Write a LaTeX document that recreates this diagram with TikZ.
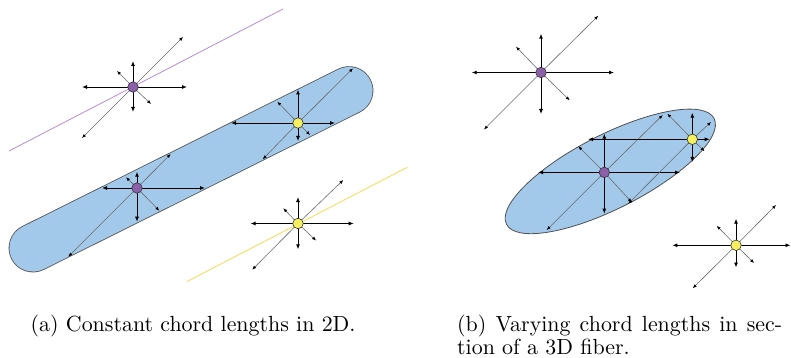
\documentclass[tikz,border=0pt]{standalone}
\usetikzlibrary{arrows.meta}
\definecolor{fiber}{RGB}{162,200,234}
\definecolor{edgegray}{RGB}{80,80,80}
\definecolor{dotpurple}{RGB}{140,96,168}
\definecolor{dotyellow}{RGB}{246,240,96}
\definecolor{linepurple}{RGB}{180,140,212}
\definecolor{lineyellow}{RGB}{248,218,80}
\font\capfont="[lmroman10-regular.otf]" at 21.9pt
\begin{document}
\begin{tikzpicture}[x=1pt,y=-1pt,
  hv/.style={draw=black, line width=0.9pt, -{Latex[length=5pt,width=4pt]}},
  dg/.style={draw=black!58, line width=0.6pt, -{Latex[length=4pt,width=3.2pt,color=black]}},
  pdot/.style={circle, draw=black!80, line width=0.6pt, fill=dotpurple, minimum size=10.5pt, inner sep=0pt},
  ydot/.style={circle, draw=black!80, line width=0.6pt, fill=dotyellow, minimum size=10.5pt, inner sep=0pt},
  captext/.style={anchor=base west, inner sep=0pt, font=\capfont}]
\useasboundingbox (0,0) rectangle (791,358);

% ---------- (a) ----------
\coordinate (A) at (33,248);
\coordinate (B) at (349,90.6);
\draw[line width=48.8pt, draw=edgegray, line cap=round] (A) -- (B);
\draw[line width=47.2pt, draw=fiber, line cap=round] (A) -- (B);

\coordinate (pl1) at (9,151);
\coordinate (pl2) at (283,9);
\draw[linepurple, line width=0.8pt] (pl1) -- (pl2);
\coordinate (yl1) at (186.7,281.7);
\coordinate (yl2) at (407.3,167.3);
\draw[lineyellow, line width=0.8pt] (yl1) -- (yl2);

\coordinate (p1) at (133,87);
\coordinate (p2) at (137,188);
\coordinate (y1) at (298,123);
\coordinate (y2) at (298,223.5);

% p1
\draw[hv] (p1) -- ++(-51,0);
\draw[hv] (p1) -- ++(54,0);
\draw[hv] (p1) -- ++(0,-26);
\draw[hv] (p1) -- ++(0,25);
\draw[dg] (p1) -- ++(-16,-16);
\draw[dg] (p1) -- ++(18,17);
\draw[dg] (p1) -- ++(50,-50);
\draw[dg] (p1) -- ++(-51,51);
% p2
\draw[hv] (p2) -- ++(-35,0);
\draw[hv] (p2) -- ++(68,0);
\draw[hv] (p2) -- ++(0,-16.3);
\draw[hv] (p2) -- ++(0,33.7);
\draw[dg] (p2) -- ++(-11,-10.7);
\draw[dg] (p2) -- ++(22.3,22.7);
\draw[dg] (p2) -- ++(33.7,-34);
\draw[dg] (p2) -- ++(-68.7,68.7);
% y1
\draw[hv] (y1) -- ++(-67,0);
\draw[hv] (y1) -- ++(37,0);
\draw[hv] (y1) -- ++(0,-33.5);
\draw[hv] (y1) -- ++(0,18);
\draw[dg] (y1) -- ++(-20.7,-21.3);
\draw[dg] (y1) -- ++(12,12);
\draw[dg] (y1) -- ++(55,-54.7);
\draw[dg] (y1) -- ++(-35.3,36.3);
% y2
\draw[hv] (y2) -- ++(-47.5,0);
\draw[hv] (y2) -- ++(55.7,0);
\draw[hv] (y2) -- ++(0,-26.5);
\draw[hv] (y2) -- ++(0,25.8);
\draw[dg] (y2) -- ++(-14.7,-15.2);
\draw[dg] (y2) -- ++(18,17);
\draw[dg] (y2) -- ++(45.3,-43.5);
\draw[dg] (y2) -- ++(-45.8,46.2);

\node[pdot] (P1) at (p1) {};
\node[pdot] (P2) at (p2) {};
\node[ydot] (Y1) at (y1) {};
\node[ydot] (Y2) at (y2) {};

% ---------- (b) ----------
\coordinate (ec) at (610.3,171.4);
\draw[fill=fiber, draw=edgegray, line width=0.8pt, rotate around={27:(ec)}] (ec) ellipse [x radius=116.5, y radius=36.9];

\coordinate (p3) at (541,72.5);
\coordinate (p4) at (604.3,172.4);
\coordinate (y3) at (692.3,139.3);
\coordinate (y4) at (736,245.3);

% p3
\draw[hv] (p3) -- ++(-69.3,0);
\draw[hv] (p3) -- ++(73,0);
\draw[hv] (p3) -- ++(0,-38.8);
\draw[hv] (p3) -- ++(0,41.5);
\draw[dg] (p3) -- ++(-25,-25.8);
\draw[dg] (p3) -- ++(28.7,27.8);
\draw[dg] (p3) -- ++(57.3,-56.8);
\draw[dg] (p3) -- ++(-57,57);
% p4
\draw[hv] (p4) -- ++(-66.3,0);
\draw[hv] (p4) -- ++(75.7,0);
\draw[hv] (p4) -- ++(0,-38.7);
\draw[hv] (p4) -- ++(0,41.3);
\draw[dg] (p4) -- ++(-26,-26.1);
\draw[dg] (p4) -- ++(27.4,29.8);
\draw[dg] (p4) -- ++(58.4,-57.4);
\draw[dg] (p4) -- ++(-57.6,57.6);
% y3
\draw[hv] (y3) -- ++(-104.3,0);
\draw[hv] (y3) -- ++(17.4,0);
\draw[hv] (y3) -- ++(0,-26.6);
\draw[hv] (y3) -- ++(0,22.7);
\draw[dg] (y3) -- ++(-25,-25.6);
\draw[dg] (y3) -- ++(12.2,11.9);
\draw[dg] (y3) -- ++(18.7,-17.3);
\draw[dg] (y3) -- ++(-64,64.4);
% y4
\draw[hv] (y4) -- ++(-63.7,0);
\draw[hv] (y4) -- ++(54.5,0);
\draw[hv] (y4) -- ++(0,-26.6);
\draw[hv] (y4) -- ++(0,22.2);
\draw[dg] (y4) -- ++(-19.3,-19.5);
\draw[dg] (y4) -- ++(18,17.7);
\draw[dg] (y4) -- ++(40,-40.3);
\draw[dg] (y4) -- ++(-43.3,43);

\node[pdot] (P3) at (p3) {};
\node[pdot] (P4) at (p4) {};
\node[ydot] (Y3) at (y3) {};
\node[ydot] (Y4) at (y4) {};

% ---------- captions ----------
\node[captext] (capa) at (30.5,331.7) {(a) Constant chord lengths in 2D.};
\node[captext] (capb1) at (457,331.7) {\makebox[325pt][s]{(b) Varying chord lengths in sec-}};
\node[captext] (capb2) at (457,354.5) {tion of a 3D fiber.};
\end{tikzpicture}
\end{document}
